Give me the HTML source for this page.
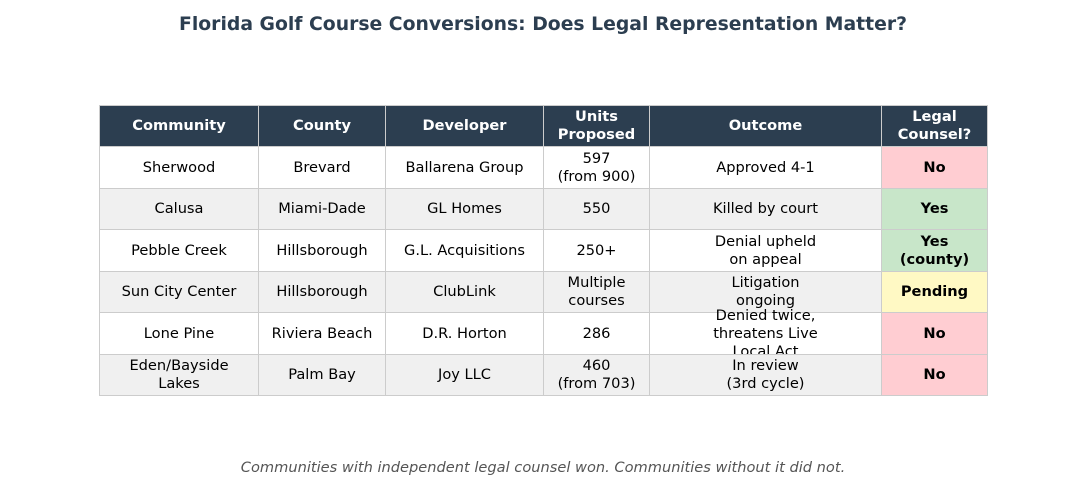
<!DOCTYPE html>
<html><head><meta charset="utf-8"><style>
body{margin:0;width:1086px;height:490px;background:#fff;font-family:"DejaVu Sans","Liberation Sans",sans-serif;position:relative;overflow:hidden}
.t{position:absolute;left:0;width:1086px;text-align:center}
.c{position:absolute;box-sizing:border-box;border:1px solid #cccccc;display:flex;align-items:center;justify-content:center;text-align:center;font-size:14.6px;line-height:18px;color:#000}
.h{background:#2c3e50;color:#fff;font-weight:bold;border-color:#cccccc}
.b{font-weight:bold}
</style></head><body>
<div class="t" style="top:14px;font-size:18.8px;font-weight:bold;color:#2c3e50">Florida Golf Course Conversions: Does Legal Representation Matter?</div>
<div id="tbl"></div>
<div class="t" style="top:459px;font-size:14.6px;font-style:italic;color:#555">Communities with independent legal counsel won. Communities without it did not.</div>
<script>
const xs=[99,258,385,543,649,881,987];
const ys=[105,146,188,229,271,312,354,395];
const headers=["Community","County","Developer","Units<br>Proposed","Outcome","Legal<br>Counsel?"];
const rows=[
["Sherwood","Brevard","Ballarena Group","597<br>(from 900)","Approved 4-1","No"],
["Calusa","Miami-Dade","GL Homes","550","Killed by court","Yes"],
["Pebble Creek","Hillsborough","G.L. Acquisitions","250+","Denial upheld<br>on appeal","Yes<br>(county)"],
["Sun City Center","Hillsborough","ClubLink","Multiple<br>courses","Litigation<br>ongoing","Pending"],
["Lone Pine","Riviera Beach","D.R. Horton","286","Denied twice,<br>threatens Live<br>Local Act","No"],
["Eden/Bayside<br>Lakes","Palm Bay","Joy LLC","460<br>(from 703)","In review<br>(3rd cycle)","No"]];
const counselColors={"No":"#ffcdd2","Yes":"#c8e6c9","Pending":"#fff9c4"};
const tbl=document.getElementById('tbl');
function cell(r,c,html,cls,bg){
 const d=document.createElement('div');
 d.className='c '+cls;
 d.style.left=xs[c]+'px';d.style.top=ys[r]+'px';
 d.style.width=(xs[c+1]-xs[c]+1)+'px';d.style.height=(ys[r+1]-ys[r]+1)+'px';
 if(bg)d.style.background=bg;
 d.innerHTML=html;
 
 
 tbl.appendChild(d);
}
headers.forEach((h,i)=>cell(0,i,h,'h'));
rows.forEach((row,r)=>{
 row.forEach((v,c)=>{
  let bg=r%2===1?'#f0f0f0':'#ffffff',cls='';
  if(c===5){bg=counselColors[v.split('<')[0]];cls='b';}
  cell(r+1,c,v,cls,bg);
 });
});
</script>
</body></html>
